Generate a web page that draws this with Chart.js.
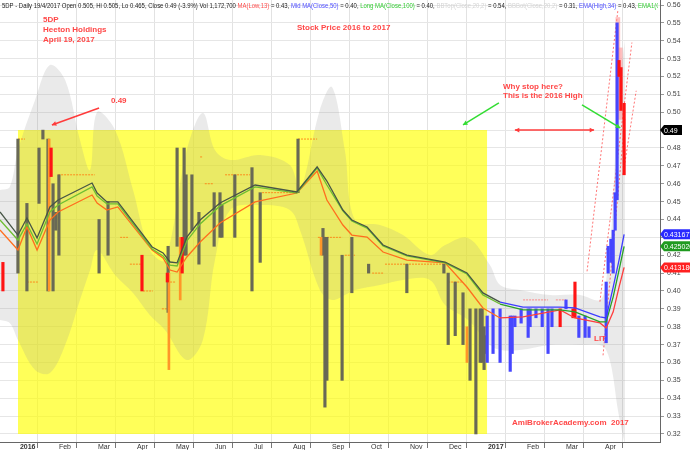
<!DOCTYPE html>
<html>
<head>
<meta charset="utf-8">
<script src="https://cdn.jsdelivr.net/npm/chart.js@4.4.1/dist/chart.umd.min.js"></script>
<style>
  html, body { margin: 0; padding: 0; background: #fff; }
  #chart { display: block; }
</style>
</head>
<body>
<canvas id="chart" width="690" height="450"></canvas>
<script>
// x is in months: 0 = start of Jan 2016, 12 = start of Jan 2017
const monthLabels = ["2016", "Feb", "Mar", "Apr", "May", "Jun", "Jul", "Aug", "Sep", "Oct", "Nov", "Dec",
  "2017", "Feb", "Mar", "Apr"];

// price bars: [month, low, high]
const grayBars = [
  [0.00, 0.410, 0.485], [0.23, 0.400, 0.449], [0.54, 0.449, 0.480], [0.64, 0.485, 0.490],
  [0.77, 0.400, 0.485], [0.90, 0.400, 0.460], [0.97, 0.434, 0.444], [1.05, 0.420, 0.465],
  [2.08, 0.410, 0.440], [2.31, 0.420, 0.450], [3.85, 0.388, 0.425], [4.08, 0.425, 0.480],
  [4.26, 0.420, 0.480], [4.31, 0.420, 0.465], [4.46, 0.434, 0.465], [4.64, 0.415, 0.444],
  [5.03, 0.425, 0.455], [5.18, 0.430, 0.455], [5.23, 0.430, 0.448], [5.56, 0.430, 0.465],
  [6.00, 0.400, 0.469], [6.21, 0.416, 0.455], [7.18, 0.455, 0.485], [7.82, 0.420, 0.435],
  [7.87, 0.335, 0.430], [7.92, 0.350, 0.430], [8.31, 0.350, 0.420], [8.56, 0.399, 0.430],
  [8.99, 0.410, 0.415], [9.97, 0.399, 0.415], [10.92, 0.410, 0.415], [11.03, 0.370, 0.410],
  [11.21, 0.375, 0.405], [11.41, 0.370, 0.399], [11.59, 0.350, 0.390], [11.74, 0.320, 0.390],
  [11.85, 0.360, 0.390], [11.90, 0.360, 0.390], [11.95, 0.356, 0.380], [11.99, 0.365, 0.375]
];
const orangeBars = [
  [0.80, 0.400, 0.485], [3.87, 0.356, 0.410], [4.16, 0.395, 0.430], [7.77, 0.420, 0.430],
  [11.51, 0.360, 0.380]
];
const redBars = [
  [-0.385, 0.400, 0.416], [0.85, 0.464, 0.480], [3.18, 0.400, 0.420], [3.83, 0.405, 0.410],
  [4.21, 0.410, 0.430], [13.90, 0.380, 0.390], [14.23, 0.385, 0.390], [14.28, 0.385, 0.405],
  [15.41, 0.520, 0.529], [15.46, 0.501, 0.525], [15.54, 0.465, 0.505]
];
const pinkBars = [
  [15.38, 0.501, 0.553], [15.44, 0.496, 0.536]
];
const blueBars = [
  [12.03, 0.360, 0.386], [12.18, 0.365, 0.390], [12.36, 0.360, 0.390], [12.62, 0.355, 0.386],
  [12.67, 0.365, 0.386], [12.74, 0.380, 0.386], [12.90, 0.382, 0.390], [13.08, 0.374, 0.390],
  [13.13, 0.380, 0.390], [13.28, 0.385, 0.390], [13.44, 0.380, 0.390], [13.59, 0.365, 0.390],
  [13.69, 0.380, 0.390], [14.05, 0.390, 0.395], [14.38, 0.374, 0.386], [14.54, 0.374, 0.386],
  [14.64, 0.374, 0.380], [15.08, 0.371, 0.405], [15.13, 0.410, 0.425], [15.20, 0.416, 0.429],
  [15.26, 0.410, 0.434], [15.31, 0.434, 0.455], [15.36, 0.451, 0.550]
];

// moving averages
const lineX = [-0.46, 0, 0.23, 0.49, 0.82, 1.03, 1.90, 2.03, 2.28, 2.56, 3.44, 3.72, 3.90, 4.08, 4.33,
  4.67, 5.18, 6.08, 7.15, 7.67, 7.92, 8.33, 8.56, 8.95, 9.36, 9.97, 10.95, 11.51, 11.92, 12.36, 12.95,
  13.90, 14.28, 14.92, 15.08, 15.26, 15.41, 15.54];
const emaHigh = [0.4442, 0.4313, 0.4408, 0.4297, 0.4470, 0.4509, 0.4604, 0.4548, 0.4498, 0.4498, 0.4246,
  0.4213, 0.4162, 0.4157, 0.4302, 0.4397, 0.4492, 0.4593, 0.4554, 0.4694, 0.4615, 0.4453, 0.4397, 0.4358,
  0.4257, 0.4201, 0.4162, 0.4101, 0.3989, 0.3938, 0.3910, 0.3910, 0.3905, 0.3855, 0.3849, 0.4022, 0.4173,
  0.4317];
const emaClose = [0.4397, 0.4285, 0.4375, 0.4263, 0.4442, 0.4481, 0.4582, 0.4531, 0.4487, 0.4487, 0.4235,
  0.4196, 0.4145, 0.4140, 0.4280, 0.4375, 0.4476, 0.4582, 0.4548, 0.4688, 0.4593, 0.4448, 0.4392, 0.4352,
  0.4252, 0.4196, 0.4157, 0.4095, 0.3978, 0.3927, 0.3894, 0.3894, 0.3883, 0.3827, 0.3827, 0.3967, 0.4117,
  0.4250];
const maLow = [0.4341, 0.4229, 0.4358, 0.4229, 0.4397, 0.4442, 0.4537, 0.4492, 0.4453, 0.4470, 0.4229,
  0.4185, 0.4117, 0.4106, 0.4190, 0.4274, 0.4380, 0.4498, 0.4548, 0.4671, 0.4509, 0.4369, 0.4313, 0.4302,
  0.4218, 0.4173, 0.4157, 0.4022, 0.3905, 0.3849, 0.3855, 0.3894, 0.3849, 0.3821, 0.3793, 0.3883, 0.4022,
  0.4132];

// bollinger band
const bandX = [-0.46, -0.21, 0, 0.44, 0.82, 1.21, 1.59, 1.85, 2.03, 2.49, 2.95, 3.38, 3.77, 4.33, 4.74,
  5.05, 5.44, 6.21, 6.97, 7.23, 7.74, 8.05, 8.38, 8.64, 9.28, 9.87, 10.56, 10.95, 11.54, 12.10, 12.36,
  12.87, 13.64, 14.41, 14.92, 15.08, 15.23, 15.38, 15.56];
const bandTop = [0.4565, 0.4582, 0.4789, 0.5069, 0.5264, 0.5180, 0.4845, 0.4677, 0.5001, 0.4901, 0.4565,
  0.4229, 0.4173, 0.4789, 0.4996, 0.4789, 0.4733, 0.4761, 0.4705, 0.4565, 0.5013, 0.5141, 0.4789, 0.4397,
  0.4369, 0.4313, 0.4201, 0.4257, 0.4297, 0.4145, 0.4034, 0.4006, 0.3978, 0.3978, 0.3950, 0.4062, 0.4397,
  0.5069, 0.5404];
const bandBot = [0.3838, 0.3821, 0.3726, 0.3558, 0.3541, 0.3698, 0.3950, 0.4117, 0.4229, 0.4090, 0.3989,
  0.3866, 0.3782, 0.3614, 0.3726, 0.4173, 0.4453, 0.4481, 0.4453, 0.4341, 0.4006, 0.3950, 0.3978, 0.4006,
  0.4034, 0.4062, 0.4062, 0.3922, 0.3838, 0.3698, 0.3670, 0.3670, 0.3698, 0.3698, 0.3698, 0.3670, 0.3558,
  0.3334, 0.3139];

// no-trade steps: [from month, to month, price]
const stepSegments = [
  [0.00, 0.18, 0.485], [0.23, 0.51, 0.405], [1.03, 1.97, 0.465], [2.62, 2.82, 0.430],
  [2.87, 3.18, 0.415], [3.21, 3.46, 0.400], [3.69, 3.82, 0.390], [3.90, 4.05, 0.405],
  [4.67, 4.74, 0.475], [4.79, 5.00, 0.460], [5.31, 5.95, 0.465], [6.26, 7.15, 0.455],
  [7.18, 7.67, 0.485], [7.69, 8.31, 0.430], [8.38, 8.64, 0.420], [9.08, 9.36, 0.410],
  [9.41, 10.90, 0.415], [11.03, 11.38, 0.405], [12.95, 13.59, 0.395], [13.79, 14.05, 0.395]
];
// trend channel lines: [m0, p0, m1, p1]
const trendLines = [
  [14.59, 0.411, 15.38, 0.557], [14.92, 0.394, 15.74, 0.539],
  [15.00, 0.364, 15.56, 0.496], [15.51, 0.465, 15.85, 0.512]
];

const highlightBox = [0, 12.03, 0.49, 0.32];   // from, to, top, bottom
const lastClose = 0.49;
const tagValues = [0.431677, 0.425020, 0.413180];

const toPoints = (xs, ys) => xs.map((x, i) => ({ x, y: ys[i] }));
const toBars = rows => rows.map(r => ({ x: r[0], y: [r[1], r[2]] }));

const stepPoints = [];
stepSegments.forEach(s => {
  stepPoints.push({ x: s[0], y: s[2] }, { x: s[1], y: s[2] }, { x: s[1], y: null });
});
const trendPoints = [];
trendLines.forEach(t => {
  trendPoints.push({ x: t[0], y: t[1] }, { x: t[2], y: t[3] }, { x: t[2], y: null });
});

const byYear = (a, b) => ({ borderColor: c => (c.p0.parsed.x < 12 ? a : b) });
const FONT = '"Liberation Sans", Arial, sans-serif';
Chart.defaults.font.family = FONT;
Chart.defaults.font.size = 7;

function barSet(rows, color, width, order) {
  return { type: "bar", data: toBars(rows), backgroundColor: color, borderWidth: 0,
    barThickness: width, grouped: false, order };
}
function lineSet(xs, ys, c2016, c2017, order) {
  return { type: "line", data: toPoints(xs, ys), borderWidth: 1.3, pointRadius: 0,
    borderColor: c2017, segment: byYear(c2016, c2017), tension: 0, order };
}

// Header, notes, arrows, tags
const header = [
  ["5DP - Daily 19/4/2017 Open 0.505, Hi 0.505, Lo 0.465, Close 0.49 (-3.9%) Vol 1,172,700 ", "#222"],
  ["MA(Low,13)", "#ff4d4d"], [" = 0.43, ", "#222"],
  ["Mid MA(Close,50)", "#4d4dff"], [" = 0.40, ", "#222"],
  ["Long MA(Close,100)", "#33cc33"], [" = 0.40, ", "#222"],
  ["BBTop(Close,20,2)", "#d4d4d4"], [" = 0.54, ", "#222"],
  ["BBBot(Close,20,2)", "#d4d4d4"], [" = 0.31, ", "#222"],
  ["EMA(High,34)", "#4d4dff"], [" = 0.43, ", "#222"],
  ["EMA1(C", "#33cc33"]
];
const notes = [
  ["5DP", 43, 22], ["Heeton Holdings", 43, 32], ["April 19, 2017", 43, 42],
  ["Stock Price 2016 to 2017", 297, 30], ["0.49", 111, 103],
  ["Why stop here?", 503, 89], ["This is the 2016 High", 503, 98],
  ["AmiBrokerAcademy.com  2017", 512, 425], ["LIT", 594, 341]
];
const arrows = [
  { from: [2.08, 0.5024], to: [0.87, 0.4929], color: "#ff3b3b", both: false },
  { from: [12.33, 0.5052], to: [11.41, 0.4929], color: "#33dd33", both: false },
  { from: [14.46, 0.5041], to: [15.44, 0.4912], color: "#33dd33", both: false },
  { from: [12.74, 0.49], to: [14.77, 0.49], color: "#ff3b3b", both: true }
];

function head(ctx, x0, y0, x1, y1, size) {
  const a = Math.atan2(y1 - y0, x1 - x0);
  ctx.beginPath();
  ctx.moveTo(x1, y1);
  ctx.lineTo(x1 - size * Math.cos(a - 0.5), y1 - size * Math.sin(a - 0.5));
  ctx.lineTo(x1 - size * Math.cos(a + 0.5), y1 - size * Math.sin(a + 0.5));
  ctx.closePath();
  ctx.fill();
}

const extras = {
  id: "extras",
  beforeDraw(chart) {
    const c = chart.ctx;
    c.save();
    c.fillStyle = "#fff";
    c.fillRect(0, 0, chart.width, chart.height);
    c.restore();
  },
  afterDatasetsDraw(chart) {
    const c = chart.ctx, xs = chart.scales.x, ys = chart.scales.y;
    c.save();
    arrows.forEach(a => {
      const x0 = xs.getPixelForValue(a.from[0]), y0 = ys.getPixelForValue(a.from[1]);
      const x1 = xs.getPixelForValue(a.to[0]), y1 = ys.getPixelForValue(a.to[1]);
      c.strokeStyle = a.color;
      c.fillStyle = a.color;
      c.lineWidth = 1.5;
      c.beginPath();
      c.moveTo(x0, y0);
      c.lineTo(x1, y1);
      c.stroke();
      head(c, x0, y0, x1, y1, 5);
      if (a.both) head(c, x1, y1, x0, y0, 5);
    });
    c.fillStyle = "#ff4747";
    c.font = "bold 8px " + FONT;
    c.textBaseline = "alphabetic";
    notes.forEach(n => c.fillText(n[0], n[1], n[2]));
    c.restore();
  },
  afterDraw(chart) {
    const c = chart.ctx, ys = chart.scales.y, right = chart.chartArea.right;
    c.save();
    // header line
    c.font = "7px " + FONT;
    c.textBaseline = "alphabetic";
    let w = 0;
    header.slice(0, -1).forEach(p => { w += c.measureText(p[0]).width; });
    const sx = 636 / w;
    c.beginPath();
    c.rect(0, 0, right - 2, 12);
    c.clip();
    c.translate(2, 0);
    c.scale(sx, 1);
    let x = 0;
    header.forEach(p => {
      c.fillStyle = p[1];
      c.fillText(p[0], x, 8);
      x += c.measureText(p[0]).width;
    });
    c.restore();

    // value tags on the price axis
    c.save();
    c.font = "7px " + FONT;
    c.textBaseline = "middle";
    const tag = (v, text, color, width) => {
      const y = ys.getPixelForValue(v);
      c.fillStyle = color;
      c.beginPath();
      c.moveTo(right, y);
      c.lineTo(right + 4, y - 5);
      c.lineTo(right + width, y - 5);
      c.lineTo(right + width, y + 5);
      c.lineTo(right + 4, y + 5);
      c.closePath();
      c.fill();
      c.fillStyle = "#fff";
      c.fillText(text, right + 4, y + 0.5);
    };
    tag(lastClose, lastClose.toFixed(2), "#000", 22);
    tag(tagValues[0], tagValues[0].toFixed(6), "#2b2bff", 30);
    tag(tagValues[1], tagValues[1].toFixed(6), "#1f9a1f", 30);
    tag(tagValues[2], tagValues[2].toFixed(6), "#ff2020", 30);
    c.restore();
  }
};

new Chart(document.getElementById("chart"), {
  type: "line",
  data: {
    datasets: [
      { type: "line", data: [{ x: highlightBox[0], y: highlightBox[2] }, { x: highlightBox[1], y: highlightBox[2] }],
        fill: { value: highlightBox[3] }, backgroundColor: "rgba(255,255,0,0.65)", borderWidth: 0,
        pointRadius: 0, order: 30 },
      { type: "line", data: toPoints(bandX, bandTop), fill: "+1", backgroundColor: "rgba(150,150,150,0.2)",
        borderWidth: 0, pointRadius: 0, tension: 0.35, order: 29 },
      { type: "line", data: toPoints(bandX, bandBot), fill: false, borderWidth: 0, pointRadius: 0,
        tension: 0.35, order: 28 },
      { type: "line", data: stepPoints, borderWidth: 1, borderDash: [2, 1], pointRadius: 0, spanGaps: false,
        borderColor: "rgba(255,110,110,0.8)", segment: byYear("rgba(255,130,20,0.9)", "rgba(255,110,110,0.8)"),
        order: 20 },
      { type: "line", data: trendPoints, borderWidth: 1, borderDash: [2, 2], pointRadius: 0, spanGaps: false,
        borderColor: "rgba(255,70,70,0.75)", order: 19 },
      barSet(grayBars, "rgb(105,105,85)", 2.5, 10),
      barSet(orangeBars, "rgb(255,150,40)", 2, 9),
      barSet(pinkBars, "rgba(255,140,140,0.55)", 4, 9),
      barSet(redBars, "rgb(255,20,20)", 2.5, 8),
      barSet(blueBars, "rgb(70,70,255)", 2.5, 8),
      lineSet(lineX, maLow, "rgb(255,110,30)", "rgb(255,60,60)", 5),
      lineSet(lineX, emaClose, "rgb(110,190,50)", "rgb(40,160,40)", 4),
      lineSet(lineX, emaHigh, "rgb(70,85,70)", "rgb(60,60,255)", 3)
    ]
  },
  options: {
    responsive: false,
    animation: false,
    devicePixelRatio: 1,
    layout: { padding: 0 },
    plugins: { legend: { display: false }, tooltip: { enabled: false } },
    elements: { point: { radius: 0 } },
    scales: {
      x: {
        type: "linear", min: -0.46, max: 16.46, offset: false,
        grid: { color: "#e2e2e2", tickLength: 6, tickColor: "#777" },
        border: { color: "#666" },
        ticks: {
          stepSize: 1, autoSkip: false, includeBounds: false, maxRotation: 0, align: "start", padding: -5,
          color: "#333",
          font: c => ({ size: 7, weight: (c.tick && (c.tick.value === 0 || c.tick.value === 12)) ? "bold" : "normal" }),
          callback: v => (Number.isInteger(v) && monthLabels[v] ? " " + monthLabels[v] : "")
        },
        afterFit: s => { s.height = 8; s.paddingLeft = 0; s.paddingRight = 0; }
      },
      y: {
        position: "right", min: 0.3155, max: 0.5628,
        grid: { color: "#e6e6e6", tickLength: 4, tickColor: "#999" },
        border: { color: "#666" },
        ticks: { stepSize: 0.01, includeBounds: false, padding: 3, color: "#444",
          callback: v => Number(v).toFixed(2) },
        afterFit: s => { s.width = 30; s.paddingTop = 0; s.paddingBottom = 0; }
      }
    }
  },
  plugins: [extras]
});
</script>
</body>
</html>
